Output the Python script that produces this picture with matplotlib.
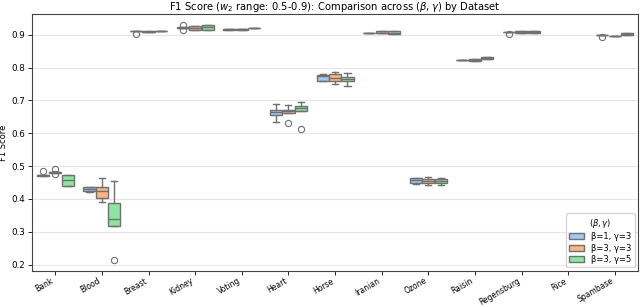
import matplotlib
matplotlib.use("Agg")
import matplotlib.pyplot as plt
from matplotlib.patches import Patch

datasets = ["Bank", "Blood", "Breast", "Kidney", "Voting", "Heart", "Horse",
            "Iranian", "Ozone", "Raisin", "Regensburg", "Rice", "Spambase"]
groups = ["β=1, γ=3", "β=3, γ=3", "β=3, γ=5"]
colors = ["#a1c9f4", "#ffb482", "#8de5a1"]

# (whisker low, q1, median, q3, whisker high) per dataset; None = no data
stats_b1g3 = [
    (0.471, 0.471, 0.472, 0.473, 0.473),
    (0.422, 0.424, 0.431, 0.436, 0.436),
    (0.911, 0.911, 0.911, 0.911, 0.911),
    (0.921, 0.921, 0.922, 0.923, 0.923),
    (0.915, 0.915, 0.917, 0.919, 0.919),
    (0.635, 0.656, 0.665, 0.671, 0.688),
    (0.759, 0.759, 0.775, 0.779, 0.782),
    (0.904, 0.904, 0.906, 0.907, 0.907),
    (0.444, 0.449, 0.457, 0.463, 0.465),
    (0.822, 0.822, 0.823, 0.824, 0.824),
    (0.908, 0.908, 0.908, 0.909, 0.909),
    None,
    (0.899, 0.899, 0.899, 0.900, 0.900),
]
stats_b3g3 = [
    (0.480, 0.480, 0.481, 0.482, 0.482),
    (0.390, 0.403, 0.424, 0.436, 0.464),
    (0.909, 0.909, 0.910, 0.911, 0.911),
    (0.914, 0.914, 0.921, 0.926, 0.926),
    (0.915, 0.915, 0.917, 0.919, 0.919),
    (0.663, 0.663, 0.667, 0.670, 0.685),
    (0.749, 0.759, 0.769, 0.780, 0.786),
    (0.904, 0.904, 0.907, 0.911, 0.911),
    (0.443, 0.447, 0.455, 0.462, 0.466),
    (0.821, 0.821, 0.824, 0.827, 0.827),
    (0.906, 0.906, 0.910, 0.913, 0.913),
    None,
    (0.896, 0.896, 0.896, 0.897, 0.897),
]
stats_b3g5 = [
    (0.440, 0.440, 0.457, 0.474, 0.474),
    (0.317, 0.317, 0.340, 0.388, 0.455),
    (0.912, 0.912, 0.912, 0.913, 0.913),
    (0.916, 0.916, 0.924, 0.929, 0.929),
    (0.920, 0.920, 0.920, 0.921, 0.921),
    (0.667, 0.667, 0.676, 0.683, 0.695),
    (0.745, 0.759, 0.766, 0.772, 0.785),
    (0.903, 0.903, 0.906, 0.911, 0.911),
    (0.441, 0.449, 0.455, 0.462, 0.463),
    (0.826, 0.826, 0.830, 0.833, 0.833),
    (0.904, 0.904, 0.909, 0.913, 0.913),
    None,
    (0.898, 0.898, 0.901, 0.905, 0.905),
]
fliers_b1g3 = [[0.486], [], [0.903], [0.929, 0.916], [], [], [], [], [], [], [0.901], [], [0.893]]
fliers_b3g3 = [[0.491, 0.476], [], [], [], [], [0.630], [], [], [], [], [], [], []]
fliers_b3g5 = [[], [0.215], [], [], [], [0.612], [], [], [], [], [], [], []]

all_stats = [stats_b1g3, stats_b3g3, stats_b3g5]
all_fliers = [fliers_b1g3, fliers_b3g3, fliers_b3g5]

fig = plt.figure(figsize=(6.4, 3.07), dpi=100)
ax = fig.add_axes([0.05, 0.118, 0.947, 0.836])

line_c = "#707070"
bw = 0.8 / 3
for h in range(3):
    bstats, pos = [], []
    for i, s in enumerate(all_stats[h]):
        if s is None:
            continue
        lo, q1, med, q3, hi = s
        bstats.append(dict(whislo=lo, q1=q1, med=med, q3=q3, whishi=hi,
                           fliers=all_fliers[h][i]))
        pos.append(i + (h - 1) * bw)
    ax.bxp(bstats, positions=pos, widths=bw * 0.98, patch_artist=True,
           manage_ticks=False,
           boxprops=dict(facecolor=colors[h], edgecolor=line_c, linewidth=1.0),
           medianprops=dict(color=line_c, linewidth=1.0),
           whiskerprops=dict(color=line_c, linewidth=1.0),
           capprops=dict(color=line_c, linewidth=1.0),
           flierprops=dict(marker="o", markerfacecolor="none",
                           markeredgecolor=line_c, markersize=4.5,
                           markeredgewidth=0.8))

ax.set_xlim(-0.5, len(datasets) - 0.5)
ax.set_ylim(0.181, 0.963)
ax.set_xticks(range(len(datasets)))
ax.set_xticklabels(datasets, rotation=30, ha="right", fontsize=5.5)
ax.set_yticks([0.2, 0.3, 0.4, 0.5, 0.6, 0.7, 0.8, 0.9])
ax.tick_params(axis="y", labelsize=6.3, length=3, width=0.6, pad=2)
ax.tick_params(axis="x", length=3, width=0.6, pad=1)
ax.yaxis.grid(True, color="#e6e6e6", linewidth=0.8)
ax.set_axisbelow(True)
for sp in ax.spines.values():
    sp.set_color("#444444")
    sp.set_linewidth(0.8)
ax.set_ylabel("F1 Score", fontsize=6, labelpad=2)
ax.set_title(r"F1 Score ($w_2$ range: 0.5-0.9): Comparison across $(\beta, \gamma)$ by Dataset",
             fontsize=7.2, pad=1.5)

handles = [Patch(facecolor=colors[h], edgecolor=line_c, label=groups[h]) for h in range(3)]
leg = ax.legend(handles=handles, title=r"$(\beta, \gamma)$", loc="lower right",
                fontsize=6, title_fontsize=6, frameon=True, labelspacing=0.3,
                borderaxespad=0.4, handlelength=1.8)

fig.savefig("out.png", dpi=100)
